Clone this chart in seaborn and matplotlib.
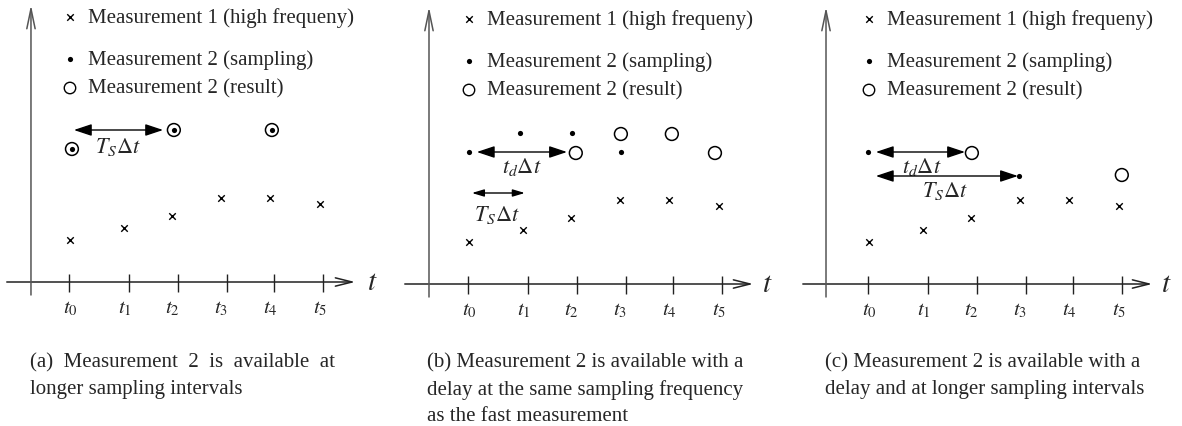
import numpy as np
import pandas as pd
import matplotlib
matplotlib.use("Agg")
import matplotlib.pyplot as plt
import seaborn as sns

# ---------------- data (time units relative to t0, value units above the t-axis) -------------
tick_pos = [0.0, 1.23, 2.23, 3.22, 4.19, 5.19]
tick_labels = ["$t_0$", "$t_1$", "$t_2$", "$t_3$", "$t_4$", "$t_5$"]

m1_x = [0.02, 1.13, 2.11, 3.11, 4.11, 5.13]
m1_y = [4.2, 5.4, 6.6, 8.4, 8.4, 7.8]

# panel (a): sampled & result coincide
a_samp_x = [0.06, 2.14, 4.14]
a_samp_y = [13.3, 15.2, 15.2]
a_res_x = [0.06, 2.14, 4.14]
a_res_y = [13.3, 15.2, 15.2]

# panel (b)
b_samp_x = [0.02, 1.06, 2.12, 3.12]
b_samp_y = [13.2, 15.1, 15.1, 13.2]
b_res_x = [2.20, 3.12, 4.16, 5.04]
b_res_y = [13.1, 15.0, 15.0, 13.1]

# panel (c)
c_samp_x = [0.0, 3.08]
c_samp_y = [13.2, 10.8]
c_res_x = [2.12, 5.18]
c_res_y = [13.1, 10.9]

# interval arrows: (x_start, x_end, y, label, label_x, label_y, big_heads)
a_arrows = [(0.10, 1.92, 15.2, r"$T_S\Delta t$", 1.0, 13.6, True)]
b_arrows = [(0.18, 2.02, 13.2, r"$t_d\Delta t$", 1.10, 11.8, True),
            (0.08, 1.16, 9.1, r"$T_S\Delta t$", 0.59, 7.0, False)]
c_arrows = [(0.16, 1.98, 13.2, r"$t_d\Delta t$", 1.10, 11.8, True),
            (0.16, 3.06, 10.8, r"$T_S\Delta t$", 1.57, 9.4, True)]

legend_labels = ["Measurement 1 (high frequeny)",
                 "Measurement 2 (sampling)",
                 "Measurement 2 (result)"]
legend_y = [26.5, 22.3, 19.4]

captions = [
    ["(a)  Measurement  2  is  available  at", "longer sampling intervals"],
    ["(b) Measurement 2 is available with a", "delay at the same sampling frequency",
     "as the fast measurement"],
    ["(c) Measurement 2 is available with a", "delay and at longer sampling intervals"],
]

# ---------------- style ----------------
sns.set_theme(style="white")
plt.rcParams["font.family"] = ["Liberation Serif", "DejaVu Serif"]
plt.rcParams["mathtext.fontset"] = "stix"

W, H = 1182, 427
fig = plt.figure(figsize=(W / 100, H / 100), dpi=100)
FS = 15

SX, SY = 49.0, 10.0  # pixels per data unit
panels = [
    dict(L=0, R=394, x0=69, y0=283, yax=-0.776, xs=-1.27, xe=5.84, tx=6.18, cap=30),
    dict(L=394, R=788, x0=468, y0=285, yax=-0.796, xs=-1.29, xe=5.82, tx=6.10, cap=427),
    dict(L=788, R=1182, x0=868, y0=285, yax=-0.857, xs=-1.33, xe=5.80, tx=6.08, cap=825),
]
samp = [(a_samp_x, a_samp_y), (b_samp_x, b_samp_y), (c_samp_x, c_samp_y)]
res = [(a_res_x, a_res_y), (b_res_x, b_res_y), (c_res_x, c_res_y)]
arrows = [a_arrows, b_arrows, c_arrows]

S_CROSS, S_DOT, S_CIRC = 22, 14, 85

for i, p in enumerate(panels):
    ax = fig.add_axes([p["L"] / W, 0, (p["R"] - p["L"]) / W, 1])
    ax.set_xlim((p["L"] - p["x0"]) / SX, (p["R"] - p["x0"]) / SX)
    ax.set_ylim((p["y0"] - H) / SY, p["y0"] / SY)
    ax.axis("off")

    # axes arrows
    ax.annotate("", xy=(p["xe"], 0), xytext=(p["xs"], 0),
                arrowprops=dict(arrowstyle="->,head_length=1.0,head_width=0.25",
                                color="#222222", lw=1.1, shrinkA=0, shrinkB=0))
    ax.annotate("", xy=(p["yax"], 27.7), xytext=(p["yax"], -1.3),
                arrowprops=dict(arrowstyle="->,head_length=1.2,head_width=0.25",
                                color="#555555", lw=1.1, shrinkA=0, shrinkB=0))
    ax.text(p["tx"], 0.0, "$t$", fontsize=FS + 6, ha="center", va="center")

    # ticks
    ax.vlines(tick_pos, -1.0, 0.8, color="#222222", lw=1.0)
    for xl, lab in zip(m1_x, tick_labels):
        ax.text(xl, -2.6, lab, fontsize=FS, ha="center", va="center")

    # measurement 1
    sns.scatterplot(x=m1_x, y=m1_y, marker="x", s=S_CROSS, color="black",
                    linewidth=1.0, ax=ax, legend=False)
    # measurement 2 result (open circles)
    rx, ry = res[i]
    sns.scatterplot(x=rx, y=ry, marker="o", s=S_CIRC, color="white",
                    edgecolor="black", linewidth=1.1, ax=ax, legend=False, zorder=3)
    ax.collections[-1].set_facecolor("none")
    # measurement 2 sampling (dots)
    sx_, sy_ = samp[i]
    sns.scatterplot(x=sx_, y=sy_, marker="o", s=S_DOT, color="black",
                    edgecolor="black", linewidth=0, ax=ax, legend=False, zorder=4)

    # interval arrows
    for (xa, xb, yy, lab, lx, ly, big) in arrows[i]:
        style = ("<|-|>,head_length=0.9,head_width=0.3" if big
                 else "<|-|>,head_length=0.6,head_width=0.18")
        ax.annotate("", xy=(xb, yy), xytext=(xa, yy),
                    arrowprops=dict(arrowstyle=style, color="black",
                                    lw=1.0, shrinkA=0, shrinkB=0))
        ax.text(lx, ly, lab, fontsize=FS + 1, ha="center", va="center")

    # legend (manual)
    lx_m, lx_t = 0.02, 0.38
    ax.scatter([lx_m], [legend_y[0]], marker="x", s=S_CROSS, color="black", linewidth=1.0)
    ax.scatter([lx_m], [legend_y[1]], marker="o", s=S_DOT, color="black", linewidth=0)
    ax.scatter([lx_m], [legend_y[2]], marker="o", s=S_CIRC * 0.8, facecolor="none",
               edgecolor="black", linewidth=1.0)
    for yy, lab in zip(legend_y, legend_labels):
        ax.text(lx_t, yy, lab, fontsize=FS, ha="left", va="center")

    # caption
    for k, line in enumerate(captions[i]):
        fig.text(p["cap"] / W, 1 - (363 + 27 * k) / H, line, fontsize=FS,
                 ha="left", va="center")

fig.savefig("out.png", dpi=100)
